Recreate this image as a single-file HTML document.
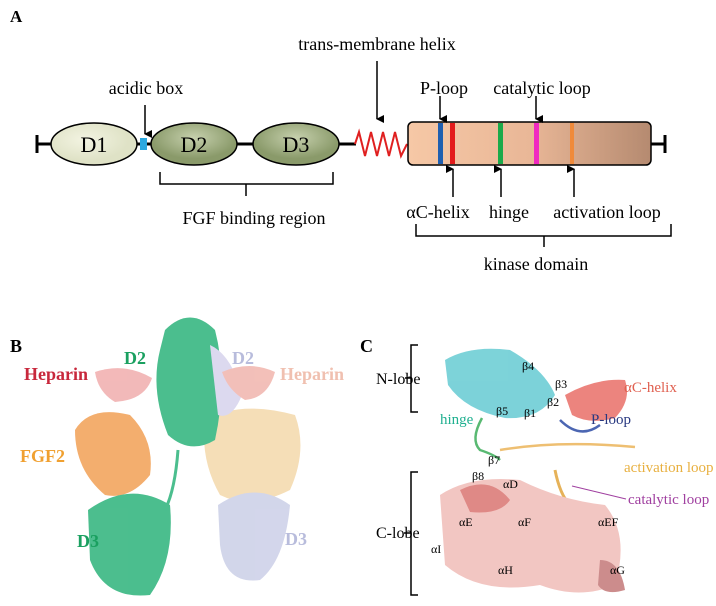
<!DOCTYPE html>
<html><head><meta charset="utf-8"><style>
html,body{margin:0;padding:0;background:#fff;overflow:hidden}
svg{display:block}
text{font-family:"Liberation Serif",serif}
</style></head><body>
<svg width="716" height="606" viewBox="0 0 716 606" xmlns="http://www.w3.org/2000/svg">
<defs>
<linearGradient id="k" x1="0" x2="1"><stop offset="0" stop-color="#f6c8a6"/><stop offset="0.5" stop-color="#e9b797"/><stop offset="1" stop-color="#b58a70"/></linearGradient>
<radialGradient id="d1" cx="0.4" cy="0.4"><stop offset="0" stop-color="#f3f4e2"/><stop offset="1" stop-color="#dfe2c6"/></radialGradient>
<radialGradient id="d2" cx="0.5" cy="0.35"><stop offset="0" stop-color="#c6d0ad"/><stop offset="1" stop-color="#8a9a6a"/></radialGradient>
<marker id="ah" markerWidth="8" markerHeight="8" refX="4" refY="7" orient="auto" markerUnits="userSpaceOnUse"><path d="M0,0 L8,0 L4,8z" fill="#000"/></marker>
</defs>
<text x="10" y="22" font-size="17" font-weight="bold">A</text>
<line x1="37" y1="144" x2="52" y2="144" stroke="#000" stroke-width="3"/>
<line x1="37" y1="135" x2="37" y2="153" stroke="#000" stroke-width="3"/>
<line x1="136" y1="144" x2="153" y2="144" stroke="#000" stroke-width="3"/>
<line x1="235" y1="144" x2="256" y2="144" stroke="#000" stroke-width="3"/>
<line x1="337" y1="144" x2="356" y2="144" stroke="#000" stroke-width="3"/>
<line x1="650" y1="144" x2="665" y2="144" stroke="#000" stroke-width="3"/>
<line x1="665" y1="135" x2="665" y2="153" stroke="#000" stroke-width="3"/>
<ellipse cx="94" cy="144" rx="43" ry="21" fill="url(#d1)" stroke="#000" stroke-width="1.5"/>
<rect x="140" y="138" width="7" height="12" fill="#2aa8e0"/>
<ellipse cx="194" cy="144" rx="43" ry="21" fill="url(#d2)" stroke="#000" stroke-width="1.5"/>
<ellipse cx="296" cy="144" rx="43" ry="21" fill="url(#d2)" stroke="#000" stroke-width="1.5"/>
<text x="94" y="152" font-size="22" text-anchor="middle">D1</text>
<text x="194" y="152" font-size="22" text-anchor="middle">D2</text>
<text x="296" y="152" font-size="22" text-anchor="middle">D3</text>
<path d="M355,144 L359,132 L365,156 L371,132 L377,156 L383,132 L389,156 L395,132 L401,156 L407,144" fill="none" stroke="#e02020" stroke-width="2"/>
<rect x="408" y="122" width="243" height="43" rx="5" fill="url(#k)" stroke="#000" stroke-width="1.5"/>
<rect x="438" y="123" width="5" height="41" fill="#1f5fb0"/>
<rect x="450" y="123" width="5" height="41" fill="#e31a1a"/>
<rect x="498" y="123" width="5" height="41" fill="#1aaa4a"/>
<rect x="534" y="123" width="5" height="41" fill="#f028c0"/>
<rect x="570" y="123" width="4" height="41" fill="#f08a3a"/>
<text x="377" y="50" font-size="18" text-anchor="middle">trans-membrane helix</text>
<line x1="377" y1="61" x2="377" y2="119" stroke="#000" stroke-width="1.5" marker-end="url(#ah)"/>
<text x="146" y="94" font-size="18" text-anchor="middle">acidic box</text>
<line x1="145" y1="105" x2="145" y2="134" stroke="#000" stroke-width="1.5" marker-end="url(#ah)"/>
<text x="444" y="94" font-size="18" text-anchor="middle">P-loop</text>
<text x="542" y="94" font-size="18" text-anchor="middle">catalytic loop</text>
<line x1="440" y1="96" x2="440" y2="119" stroke="#000" stroke-width="1.5" marker-end="url(#ah)"/>
<line x1="536" y1="96" x2="536" y2="119" stroke="#000" stroke-width="1.5" marker-end="url(#ah)"/>
<line x1="453" y1="197" x2="453" y2="169" stroke="#000" stroke-width="1.5" marker-end="url(#ah)"/>
<line x1="501" y1="197" x2="501" y2="169" stroke="#000" stroke-width="1.5" marker-end="url(#ah)"/>
<line x1="574" y1="197" x2="574" y2="169" stroke="#000" stroke-width="1.5" marker-end="url(#ah)"/>
<text x="438" y="218" font-size="18" text-anchor="middle">αC-helix</text>
<text x="509" y="218" font-size="18" text-anchor="middle">hinge</text>
<text x="607" y="218" font-size="18" text-anchor="middle">activation loop</text>
<path d="M416,224 L416,236 L544,236 L544,247 M544,236 L671,236 L671,224" fill="none" stroke="#000" stroke-width="1.5"/>
<text x="536" y="270" font-size="18" text-anchor="middle">kinase domain</text>
<path d="M160,172 L160,184 L246,184 L246,196 M246,184 L333,184 L333,172" fill="none" stroke="#000" stroke-width="1.5"/>
<text x="254" y="224" font-size="18" text-anchor="middle">FGF binding region</text>

<!-- Panel B -->
<text x="10" y="352" font-size="18" font-weight="bold">B</text>
<g opacity="0.8">
<path d="M75,430 Q90,405 130,415 Q155,440 150,475 Q130,500 105,495 Q75,470 75,430z" fill="#f19a4a"/>
<path d="M205,420 Q240,400 295,415 Q308,450 290,490 Q250,510 220,495 Q200,460 205,420z" fill="#f3d6a6"/>
<path d="M218,505 Q255,480 290,505 Q285,560 260,580 Q225,585 220,545z" fill="#c8cce6"/>
<path d="M88,510 Q130,480 170,505 Q175,560 150,595 Q105,600 90,560z" fill="#1fae72"/>
<path d="M165,330 Q190,305 215,330 Q228,380 215,440 Q190,455 168,435 Q150,390 160,350z" fill="#1fae72"/>
<path d="M178,450 Q175,490 165,510" stroke="#1fae72" stroke-width="3" fill="none"/>
<path d="M210,345 Q232,355 242,395 Q232,420 218,415z" fill="#d4d0ec"/>
<path d="M95,372 Q125,362 152,378 Q145,400 115,402 Q98,392 95,372z" fill="#f0a8a8"/>
<path d="M222,372 Q250,360 275,372 Q268,398 245,400 Q228,390 222,372z" fill="#f0b0a8"/>
</g>
<text x="124" y="364" font-size="18" font-weight="bold" fill="#1aa060">D2</text>
<text x="24" y="380" font-size="18" font-weight="bold" fill="#c8283c">Heparin</text>
<text x="232" y="364" font-size="18" font-weight="bold" fill="#b8bcdc">D2</text>
<text x="280" y="380" font-size="18" font-weight="bold" fill="#f0c0b0">Heparin</text>
<text x="20" y="462" font-size="18" font-weight="bold" fill="#f0a030">FGF2</text>
<text x="77" y="547" font-size="18" font-weight="bold" fill="#1aa060">D3</text>
<text x="285" y="545" font-size="18" font-weight="bold" fill="#b8bcdc">D3</text>

<!-- Panel C -->
<text x="360" y="352" font-size="18" font-weight="bold">C</text>
<g opacity="0.8">
<path d="M445,360 Q470,345 510,350 Q545,370 555,395 Q540,420 505,418 Q465,410 448,385z" fill="#5cc8d0"/>
<path d="M565,395 Q595,378 625,380 Q632,400 615,418 Q590,425 572,415z" fill="#e8665e"/>
<path d="M560,420 Q580,440 600,425" stroke="#2040a0" stroke-width="2.5" fill="none"/>
<path d="M482,418 Q470,440 480,450 Q495,455 500,460" stroke="#30a850" stroke-width="2.5" fill="none"/>
<path d="M500,450 Q560,440 635,447" stroke="#eab050" stroke-width="2.5" fill="none"/>
<path d="M555,470 Q560,495 570,505" stroke="#e0a030" stroke-width="3" fill="none"/>
<path d="M440,495 Q470,475 520,480 Q560,500 605,505 Q630,535 615,585 Q580,600 540,585 Q480,595 445,565z" fill="#f0b8b4"/>
<path d="M460,490 Q490,475 510,500 Q500,515 470,512z" fill="#d86c68"/>
<path d="M600,560 Q620,560 625,590 Q605,596 598,585z" fill="#c07070"/>
</g>
<text x="376" y="384" font-size="16">N-lobe</text>
<path d="M405,378 L411,378 M418,345 L411,345 L411,412 L418,412" fill="none" stroke="#000" stroke-width="1.5"/>
<text x="376" y="538" font-size="16">C-lobe</text>
<path d="M404,533 L411,533 M418,472 L411,472 L411,595 L418,595" fill="none" stroke="#000" stroke-width="1.5"/>
<g font-size="12">
<text x="522" y="370">β4</text><text x="555" y="388">β3</text><text x="547" y="406">β2</text>
<text x="524" y="417">β1</text><text x="496" y="415">β5</text>
<text x="488" y="464">β7</text><text x="472" y="480">β8</text><text x="503" y="488">αD</text>
<text x="459" y="526">αE</text><text x="518" y="526">αF</text><text x="598" y="526">αEF</text>
<text x="431" y="553">αI</text><text x="498" y="574">αH</text><text x="610" y="574">αG</text>
</g>
<text x="440" y="424" font-size="15" fill="#20b090">hinge</text>
<text x="591" y="424" font-size="15" fill="#283880">P-loop</text>
<text x="624" y="392" font-size="15" fill="#e06050">αC-helix</text>
<text x="624" y="472" font-size="15" fill="#e8b040">activation loop</text>
<text x="628" y="504" font-size="15" fill="#a040a0">catalytic loop</text>
<line x1="572" y1="486" x2="626" y2="499" stroke="#a040a0" stroke-width="1"/>
</svg>
</body></html>
